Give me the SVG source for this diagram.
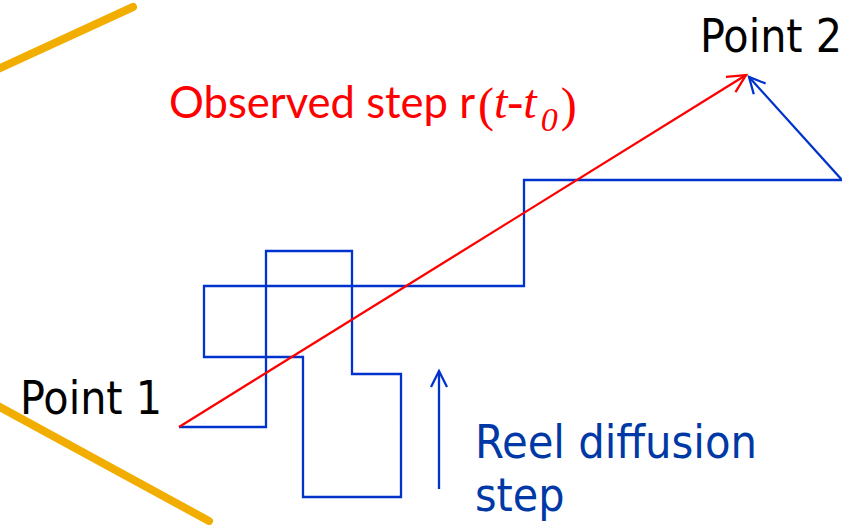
<svg xmlns="http://www.w3.org/2000/svg" width="842" height="525" viewBox="0 0 842 525">
<style>
.orange{stroke:#F2AE00;stroke-width:8;stroke-linecap:round;fill:none}
.blue{stroke:#0033CC;stroke-width:2.3;fill:none}
.red{stroke:#FF0000;stroke-width:2.3;fill:none}
.lbl{font-family:"DejaVu Sans Condensed","DejaVu Sans",sans-serif;font-size:46px;fill:#000}
.blt{font-family:"DejaVu Sans Condensed","DejaVu Sans",sans-serif;font-size:46px;fill:#0039A6}
.obs{font-family:Lato,"Open Sans",sans-serif;font-size:44px;fill:#FF0000}
.ser{font-family:"Liberation Serif",serif;font-size:48px;font-style:normal}
.ital{font-family:"Liberation Serif",serif;font-style:italic;font-size:48px}
</style>
<defs>
<marker id="ahR" markerWidth="24" markerHeight="24" refX="20" refY="12" orient="auto" markerUnits="userSpaceOnUse">
<path d="M2,3 L20,12 L2,21" fill="none" stroke="#FF0000" stroke-width="2.3"/>
</marker>
<marker id="ahB" markerWidth="24" markerHeight="24" refX="20" refY="12" orient="auto" markerUnits="userSpaceOnUse">
<path d="M4,4 L20,12 L4,20" fill="none" stroke="#0033CC" stroke-width="2.3"/>
</marker>
</defs>
<g id="boundaries">
<line class="orange" x1="-4" y1="70" x2="133" y2="7"/>
<line class="orange" x1="-4" y1="405" x2="209" y2="521"/>
</g>
<g id="connectors">
<polyline class="blue" points="179,427 266,427 266,251 352,251 352,374 401,374 401,497 303,497 303,357 204,357 204,286 524,286 524,180 842,180"/>
<line class="blue" x1="842" y1="180" x2="749" y2="77" marker-end="url(#ahB)"/>
<line class="red" x1="179" y1="427" x2="746" y2="75" marker-end="url(#ahR)"/>
<line class="blue" x1="439" y1="489" x2="439" y2="371" marker-end="url(#ahB)"/>
</g>
<g id="point1"><text class="lbl" x="20" y="414">Point 1</text></g>
<g id="point2"><text class="lbl" x="700" y="52">Point 2</text></g>
<g id="observed">
<text class="obs" y="118"><tspan x="169" textLength="306" lengthAdjust="spacingAndGlyphs">Observed step r</tspan><tspan class="ser" x="478" y="121">(</tspan><tspan class="ital" y="118">t</tspan><tspan class="ser">-</tspan><tspan class="ital">t</tspan><tspan class="ital" dx="4" y="131" style="font-size:34px">0</tspan><tspan class="ser" dx="3" y="121">)</tspan></text>
</g>
<g id="reel">
<text class="blt" x="475" y="458" textLength="282" lengthAdjust="spacingAndGlyphs">Reel diffusion</text>
<text class="blt" x="475" y="511">step</text>
</g>
</svg>
